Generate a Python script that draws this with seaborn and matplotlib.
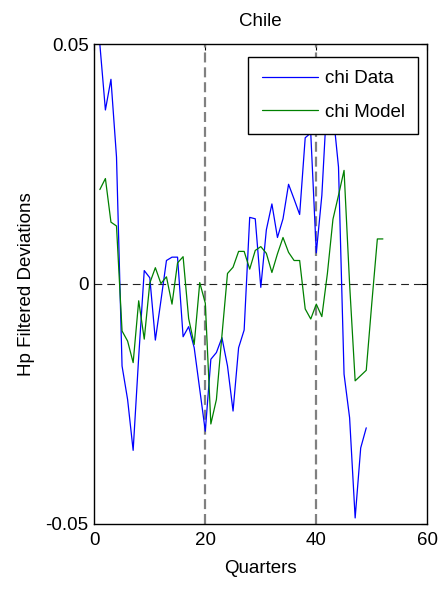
import numpy as np
import pandas as pd
import matplotlib
matplotlib.use("Agg")
import matplotlib.pyplot as plt
import seaborn as sns

# Quarterly HP-filtered deviations for Chile
quarters_data = list(range(1, 50))
chi_data = [
    0.0500, 0.0363, 0.0427, 0.0265, -0.0171, -0.0241, -0.0347, -0.0152, 0.0028, 0.0013,
    -0.0117, -0.0035, 0.0049, 0.0056, 0.0056, -0.0110, -0.0089, -0.0133, -0.0220, -0.0307,
    -0.0157, -0.0143, -0.0112, -0.0171, -0.0265, -0.0133, -0.0096, 0.0139, 0.0136, -0.0007,
    0.0113, 0.0167, 0.0097, 0.0136, 0.0208, 0.0177, 0.0145, 0.0305, 0.0315, 0.0065,
    0.0185, 0.0400, 0.0360, 0.0244, -0.0188, -0.0279, -0.0488, -0.0342, -0.0300,
]

quarters_model = list(range(1, 53))
chi_model = [
    0.0197, 0.0220, 0.0129, 0.0121, -0.0098, -0.0119, -0.0164, -0.0035, -0.0115, 0.0002,
    0.0034, 0.0001, 0.0015, -0.0042, 0.0044, 0.0057, -0.0072, -0.0126, 0.0003, -0.0040,
    -0.0292, -0.0241, -0.0107, 0.0022, 0.0035, 0.0068, 0.0068, 0.0031, 0.0070, 0.0078,
    0.0064, 0.0024, 0.0063, 0.0097, 0.0066, 0.0049, 0.0049, -0.0052, -0.0073, -0.0042,
    -0.0068, 0.0022, 0.0135, 0.0185, 0.0237, 0.0000, -0.0202, -0.0191, -0.0180, -0.0040,
    0.0094, 0.0094,
]

series_names = ["chi Data", "chi Model"]
series_colors = ["#0000ff", "#008000"]
x_ticks = [0, 20, 40, 60]
x_tick_labels = ["0", "20", "40", "60"]
y_ticks = [-0.05, 0, 0.05]
y_tick_labels = ["-0.05", "0", "0.05"]
break_quarters = [20, 40]

df = pd.concat([
    pd.DataFrame({"Quarter": quarters_data, "Value": chi_data, "Series": series_names[0]}),
    pd.DataFrame({"Quarter": quarters_model, "Value": chi_model, "Series": series_names[1]}),
], ignore_index=True)

sns.set_style("white")
plt.rcParams["font.family"] = ["Liberation Sans", "DejaVu Sans"]
plt.rcParams["font.size"] = 13.5
for key in ["text.color", "axes.labelcolor", "xtick.color", "ytick.color"]:
    plt.rcParams[key] = "black"

W, H = 440, 589
fig = plt.figure(figsize=(W / 100, H / 100), dpi=100)
left, right, top, bottom = 94.3, 427.3, 44.3, 523.7
ax = fig.add_axes([left / W, 1 - bottom / H, (right - left) / W, (bottom - top) / H])

for q in break_quarters:
    ax.axvline(q, color="#808080", lw=1.6, linestyle=(0, (4.5, 2.2)), zorder=1)
ax.axhline(0, color="#222222", lw=0.8, linestyle=(0, (7, 4.5)), zorder=1)

sns.lineplot(data=df, x="Quarter", y="Value", hue="Series", hue_order=series_names,
             palette=series_colors, linewidth=0.9, ax=ax, legend=False, zorder=2,
             estimator=None, sort=False)

ax.set_xlim(0, 60)
ax.set_ylim(-0.05, 0.05)
ax.set_xticks(x_ticks)
ax.set_xticklabels(x_tick_labels)
ax.set_yticks(y_ticks)
ax.set_yticklabels(y_tick_labels)
ax.tick_params(direction="in", length=4, width=0.8, top=True, right=True,
               labelsize=13.5, colors="black")
ax.tick_params(axis="x", pad=6)
ax.tick_params(axis="y", pad=4)
for s in ax.spines.values():
    s.set_visible(True)
    s.set_color("black")
    s.set_linewidth(1.0)

ax.set_title("Chile", fontsize=13.5, pad=13, color="black")
ax.set_xlabel("Quarters", fontsize=13.5, labelpad=8)
ax.set_ylabel("Hp Filtered Deviations", fontsize=13.5, labelpad=8)

handles = [plt.Line2D([], [], color=c, lw=0.9) for c in series_colors]
leg = ax.legend(handles, series_names, loc="upper right",
                bbox_to_anchor=(418.3 / W, 1 - 56.7 / H), bbox_transform=fig.transFigure,
                borderaxespad=0, fancybox=False, framealpha=1, edgecolor="black",
                handlelength=3.0, handletextpad=0.35, labelspacing=0.88,
                borderpad=0.72, fontsize=13.5)
leg.get_frame().set_linewidth(1.0)
for t in leg.get_texts():
    t.set_color("black")

fig.savefig("out.png", dpi=100)
